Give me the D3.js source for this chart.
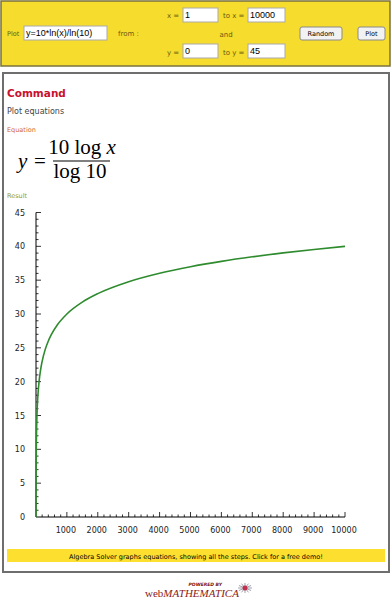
<!DOCTYPE html>
<html><head><meta charset="utf-8">
<script src="https://cdn.jsdelivr.net/npm/d3@7"></script>
<style>html,body{margin:0;padding:0;background:#fff;}svg{display:block;}</style>
</head><body>
<script>
// Data (y = 10 log x / log 10)
const xs = [1, 1.5, 2, 3, 5, 7, 10, 15, 20, 30, 50, 70, 100, 150, 200, 300, 400, 500, 700, 1000, 1500, 2000, 3000, 4000, 5000, 6000, 7000, 8000, 9000, 10000];
const ys = [0, 1.76, 3.01, 4.77, 6.99, 8.45, 10, 11.76, 13.01, 14.77, 16.99, 18.45, 20, 21.76, 23.01, 24.77, 26.02, 26.99, 28.45, 30, 31.76, 33.01, 34.77, 36.02, 36.99, 37.78, 38.45, 39.03, 39.54, 40];
const xTicks = [1000, 2000, 3000, 4000, 5000, 6000, 7000, 8000, 9000, 10000];
const yTicks = [0, 5, 10, 15, 20, 25, 30, 35, 40, 45];
const xDomain = [1, 10000];
const yDomain = [0, 45];

const W = 392, H = 600;
const svg = d3.select("body").append("svg").attr("width", W).attr("height", H);
const font = "Verdana, 'DejaVu Sans', sans-serif";

// Top yellow form panel
svg.append("rect").attr("x", 1).attr("y", 1).attr("width", 389).attr("height", 65)
  .attr("fill", "#f6dc2c").attr("stroke", "#7a7240").attr("stroke-width", 1.5);

function label(x, y, t, opts = {}) {
  return svg.append("text").attr("x", x).attr("y", y).text(t)
    .attr("font-family", font).attr("font-size", opts.size || 7.5)
    .attr("fill", opts.fill || "#6b5a10").attr("text-anchor", opts.anchor || "start")
    .attr("font-weight", opts.weight || "normal");
}
function input(x, y, w, h, t) {
  svg.append("rect").attr("x", x).attr("y", y).attr("width", w).attr("height", h)
    .attr("fill", "#fff").attr("stroke", "#a9a9a9").attr("stroke-width", 1);
  svg.append("text").attr("x", x + 2).attr("y", y + h - 4).text(t)
    .attr("font-family", "'Liberation Sans', Arial, sans-serif").attr("font-size", 9).attr("fill", "#000");
}
function button(x, y, w, h, t) {
  svg.append("rect").attr("x", x).attr("y", y).attr("width", w).attr("height", h).attr("rx", 2)
    .attr("fill", "#f2f2f2").attr("stroke", "#8a8a8a").attr("stroke-width", 1);
  svg.append("text").attr("x", x + w / 2).attr("y", y + h - 4).text(t)
    .attr("font-family", font).attr("font-size", 6.5).attr("fill", "#000").attr("text-anchor", "middle");
}
label(7, 36, "Plot", {size: 6.5});
input(24, 26, 83, 14, "y=10*ln(x)/ln(10)");
label(118, 36, "from :", {size: 7});
label(167, 18, "x =", {size: 7});
input(183, 8, 35, 14, "1");
label(223, 18, "to x =", {size: 7});
input(248, 8, 37, 14, "10000");
label(226, 37, "and", {anchor: "middle", size: 7});
label(167, 55, "y =", {size: 7});
input(183, 44, 35, 14, "0");
label(223, 55, "to y =", {size: 7});
input(248, 44, 37, 14, "45");
button(300, 27, 42, 13, "Random");
button(358, 27, 27, 13, "Plot");

// Main white box
svg.append("rect").attr("x", 3).attr("y", 73).attr("width", 386).attr("height", 499)
  .attr("fill", "#fff").attr("stroke", "#6e6e6e").attr("stroke-width", 2);

label(7, 97, "Command", {size: 10.5, fill: "#c8102e", weight: "bold"});
label(7, 114, "Plot equations", {size: 8, fill: "#444"});
label(7, 132, "Equation", {size: 6.5, fill: "#d2691e"});

// Equation (TeX-like)
svg.append("text").attr("x", 18).attr("y", 168).text("y")
  .attr("font-family", "'Liberation Serif', serif").attr("font-style", "italic").attr("font-size", 21);
svg.append("text").attr("x", 34).attr("y", 168).text("=")
  .attr("font-family", "'Liberation Serif', serif").attr("font-size", 21);
const num = svg.append("text").attr("x", 82).attr("y", 154).attr("text-anchor", "middle")
  .attr("font-family", "'Liberation Serif', serif").attr("font-size", 21);
num.append("tspan").text("10 log ");
num.append("tspan").attr("font-style", "italic").text("x");
svg.append("line").attr("x1", 53).attr("x2", 110).attr("y1", 161).attr("y2", 161)
  .attr("stroke", "#000").attr("stroke-width", 1);
svg.append("text").attr("x", 80).attr("y", 178).attr("text-anchor", "middle").text("log 10")
  .attr("font-family", "'Liberation Serif', serif").attr("font-size", 21);

label(7, 198, "Result", {size: 6.5, fill: "#9a9a10"});

// Plot
const x = d3.scaleLinear().domain(xDomain).range([36, 345]);
const y = d3.scaleLinear().domain(yDomain).range([517, 212.5]);

const g = svg.append("g");
const xMinor = d3.range(200, 10001, 200);
const yMinor = d3.range(1, 46, 1);
g.selectAll(".xm").data(xMinor).join("line")
  .attr("x1", d => x(d)).attr("x2", d => x(d)).attr("y1", 517).attr("y2", d => d % 1000 === 0 ? 512 : 514.5)
  .attr("stroke", "#000").attr("stroke-width", 0.8);
g.selectAll(".ym").data(yMinor).join("line")
  .attr("y1", d => y(d)).attr("y2", d => y(d)).attr("x1", 36).attr("x2", d => d % 5 === 0 ? 41 : 38.5)
  .attr("stroke", "#000").attr("stroke-width", 0.8);
g.append("line").attr("x1", 36).attr("x2", x(10000)).attr("y1", 517).attr("y2", 517).attr("stroke", "#000").attr("stroke-width", 1);
g.append("line").attr("x1", 36).attr("x2", 36).attr("y1", 517).attr("y2", y(45)).attr("stroke", "#000").attr("stroke-width", 1);

g.selectAll(".xl").data(xTicks).join("text")
  .attr("x", d => x(d) - 1).attr("y", 533).attr("text-anchor", "middle").text(d => d)
  .attr("font-family", font).attr("font-size", 8).attr("fill", "#222");
g.selectAll(".yl").data(yTicks).join("text")
  .attr("x", 25).attr("y", d => y(d) + 3).attr("text-anchor", "end").text(d => d)
  .attr("font-family", font).attr("font-size", 8).attr("fill", "#222");

const pts = xs.map((v, i) => [v, ys[i]]);
g.append("path").datum(pts)
  .attr("d", d3.line().x(d => x(d[0])).y(d => y(d[1])).curve(d3.curveMonotoneX))
  .attr("fill", "none").attr("stroke", "#2e8b2e").attr("stroke-width", 1.6);

// Bottom banner
svg.append("rect").attr("x", 7).attr("y", 549).attr("width", 378).attr("height", 13).attr("fill", "#fde02f");
svg.append("text").attr("x", 196).attr("y", 558.5).attr("text-anchor", "middle")
  .text("Algebra Solver graphs equations, showing all the steps. Click for a free demo!")
  .attr("font-family", font).attr("font-size", 6.5).attr("fill", "#000");

// Logo
svg.append("text").attr("x", 222).attr("y", 586).attr("text-anchor", "end").text("POWERED BY")
  .attr("font-family", font).attr("font-size", 4.5).attr("font-weight", "bold").attr("font-style", "italic").attr("fill", "#7a1010");
const logo = svg.append("text").attr("x", 145).attr("y", 597)
  .attr("font-family", "'Liberation Serif', serif").attr("font-size", 11).attr("fill", "#8b1a1a");
logo.append("tspan").text("web");
logo.append("tspan").attr("font-style", "italic").text("MATHEMATICA");
const star = svg.append("g").attr("transform", "translate(245,588)");
star.selectAll("line").data(d3.range(12)).join("line")
  .attr("x1", 0).attr("y1", 0)
  .attr("x2", d => Math.cos(d * Math.PI / 6) * 7).attr("y2", d => Math.sin(d * Math.PI / 6) * 5)
  .attr("stroke", "#a0a0b0").attr("stroke-width", 1);
star.append("circle").attr("r", 2.5).attr("fill", "#c0304a");
</script>
</body></html>
